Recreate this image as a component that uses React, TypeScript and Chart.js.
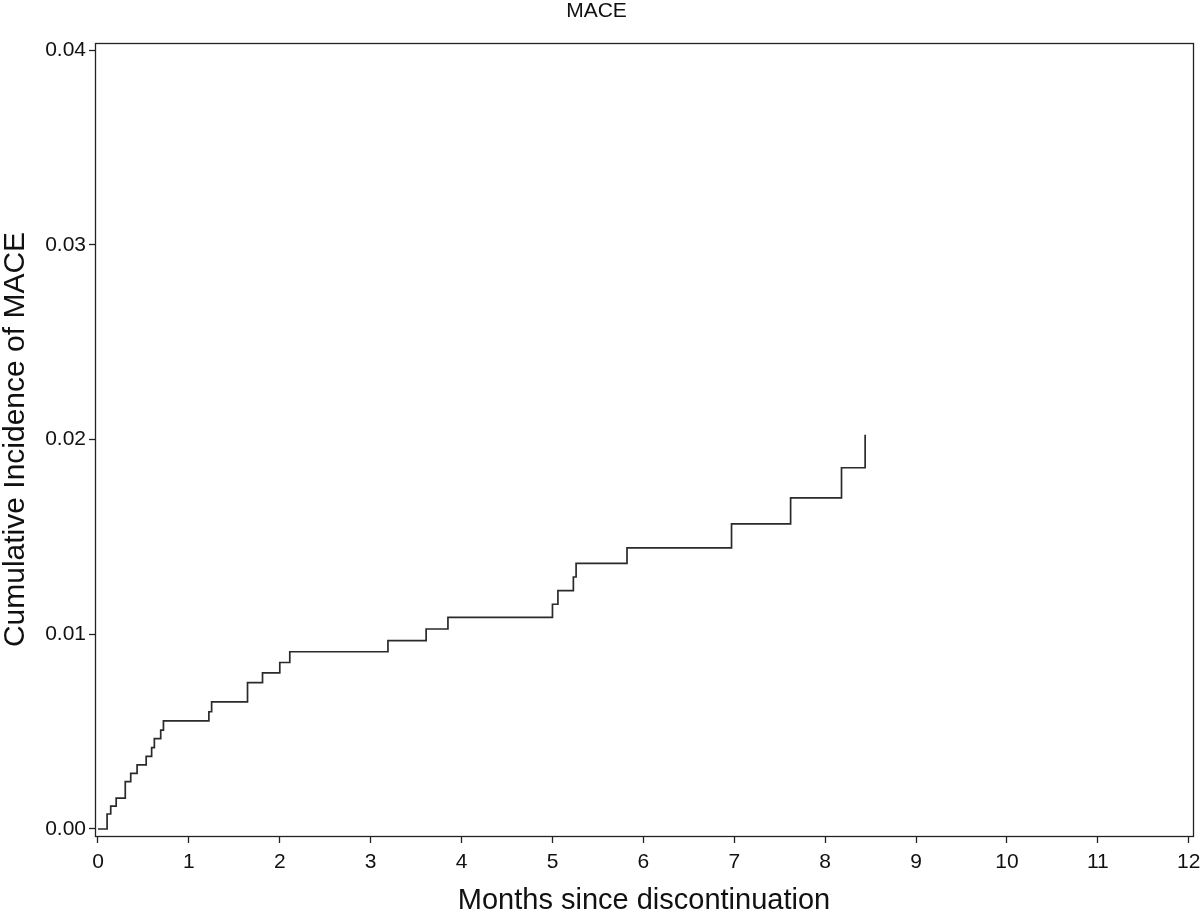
import React, { useEffect, useRef } from "react";
import { Chart, registerables } from "chart.js";

Chart.register(...registerables);

const chartTitle = "MACE";
const xAxisTitle = "Months since discontinuation";
const yAxisTitle = "Cumulative Incidence of MACE";

const eventMonths = [
  0, 0.1, 0.14, 0.2, 0.3, 0.36, 0.43, 0.53, 0.59, 0.62, 0.69, 0.72, 1.22, 1.25,
  1.645, 1.81, 2.0, 2.11, 3.19, 3.61, 3.85, 5.0, 5.06, 5.23, 5.26, 5.82, 6.97,
  7.62, 8.18, 8.44,
];
const cumulativeIncidence = [
  0, 0.00077, 0.00117, 0.00158, 0.00243, 0.00286, 0.00329, 0.00373, 0.00418,
  0.00464, 0.00508, 0.00555, 0.00602, 0.00653, 0.00752, 0.00802, 0.00855,
  0.0091, 0.00967, 0.01027, 0.01087, 0.01154, 0.01224, 0.01294, 0.01364,
  0.01444, 0.01567, 0.017, 0.01855, 0.02024,
];
const xTickValues = [0, 1, 2, 3, 4, 5, 6, 7, 8, 9, 10, 11, 12];
const yTickValues = [0, 0.01, 0.02, 0.03, 0.04];

const FONT = "'Liberation Sans', Arial, Helvetica, sans-serif";

const frameBox = {
  id: "frameBox",
  afterDatasetsDraw(chart: any) {
    const { ctx, chartArea } = chart;
    ctx.save();
    ctx.strokeStyle = "#222";
    ctx.lineWidth = 1.3;
    ctx.strokeRect(
      Math.round(chartArea.left) + 0.5,
      Math.round(chartArea.top) + 0.5,
      Math.round(chartArea.right - chartArea.left),
      Math.round(chartArea.bottom - chartArea.top)
    );
    ctx.restore();
  },
};

export default function App() {
  const canvasRef = useRef<HTMLCanvasElement | null>(null);

  useEffect(() => {
    document.body.style.margin = "0";
    const canvas = canvasRef.current;
    if (!canvas) return;
    const data = eventMonths.map((m, i) => ({ x: m, y: cumulativeIncidence[i] }));
    const chart = new Chart(canvas, {
      type: "line",
      data: {
        datasets: [
          {
            label: chartTitle,
            data,
            stepped: "before",
            borderColor: "#2a2a2a",
            borderWidth: 1.7,
            pointRadius: 0,
            fill: false,
          },
        ],
      },
      options: {
        animation: false,
        responsive: false,
        maintainAspectRatio: false,
        devicePixelRatio: 1,
        layout: { padding: { left: 0, right: 7, top: 0, bottom: 0 } },
        plugins: {
          legend: { display: false },
          tooltip: { enabled: false },
          title: {
            display: true,
            text: chartTitle,
            color: "#111",
            font: { family: FONT, size: 21, weight: "normal", lineHeight: 1 },
            padding: { top: 1, bottom: 21 },
          },
        },
        scales: {
          x: {
            type: "linear",
            min: -0.033,
            max: 12.047,
            afterBuildTicks: (scale: any) => {
              scale.ticks = xTickValues.map((v) => ({ value: v }));
            },
            afterFit: (scale: any) => {
              scale.height = 79;
              scale.paddingLeft = 0;
              scale.paddingRight = 0;
            },
            grid: {
              display: true,
              drawOnChartArea: false,
              drawTicks: true,
              tickLength: 7,
              tickColor: "#222",
              tickWidth: 1.3,
            },
            border: { display: false },
            ticks: {
              color: "#111",
              font: { family: FONT, size: 21 },
              padding: 7,
              maxRotation: 0,
              autoSkip: false,
              callback: (v: any) => String(v),
            },
            title: {
              display: true,
              text: xAxisTitle,
              color: "#111",
              font: { family: FONT, size: 29, lineHeight: 1 },
              padding: { top: 0, bottom: 0 },
            },
          },
          y: {
            type: "linear",
            min: -0.00036,
            max: 0.04036,
            afterBuildTicks: (scale: any) => {
              scale.ticks = yTickValues.map((v) => ({ value: v }));
            },
            afterFit: (scale: any) => {
              scale.width = 95;
              scale.paddingTop = 0;
              scale.paddingBottom = 0;
            },
            grid: {
              display: true,
              drawOnChartArea: false,
              drawTicks: true,
              tickLength: 6,
              tickColor: "#222",
              tickWidth: 1.3,
            },
            border: { display: false },
            ticks: {
              color: "#111",
              font: { family: FONT, size: 21 },
              padding: 3,
              autoSkip: false,
              callback: (v: any) => Number(v).toFixed(2),
            },
            title: {
              display: true,
              text: yAxisTitle,
              color: "#111",
              font: { family: FONT, size: 30, lineHeight: 1 },
              padding: { top: 1, bottom: 0 },
            },
          },
        },
      },
      plugins: [frameBox],
    } as any);
    return () => chart.destroy();
  }, []);

  return (
    <div style={{ width: 1200, height: 915 }}>
      <canvas ref={canvasRef} width={1200} height={915} style={{ display: "block", width: 1200, height: 915 }} />
    </div>
  );
}
